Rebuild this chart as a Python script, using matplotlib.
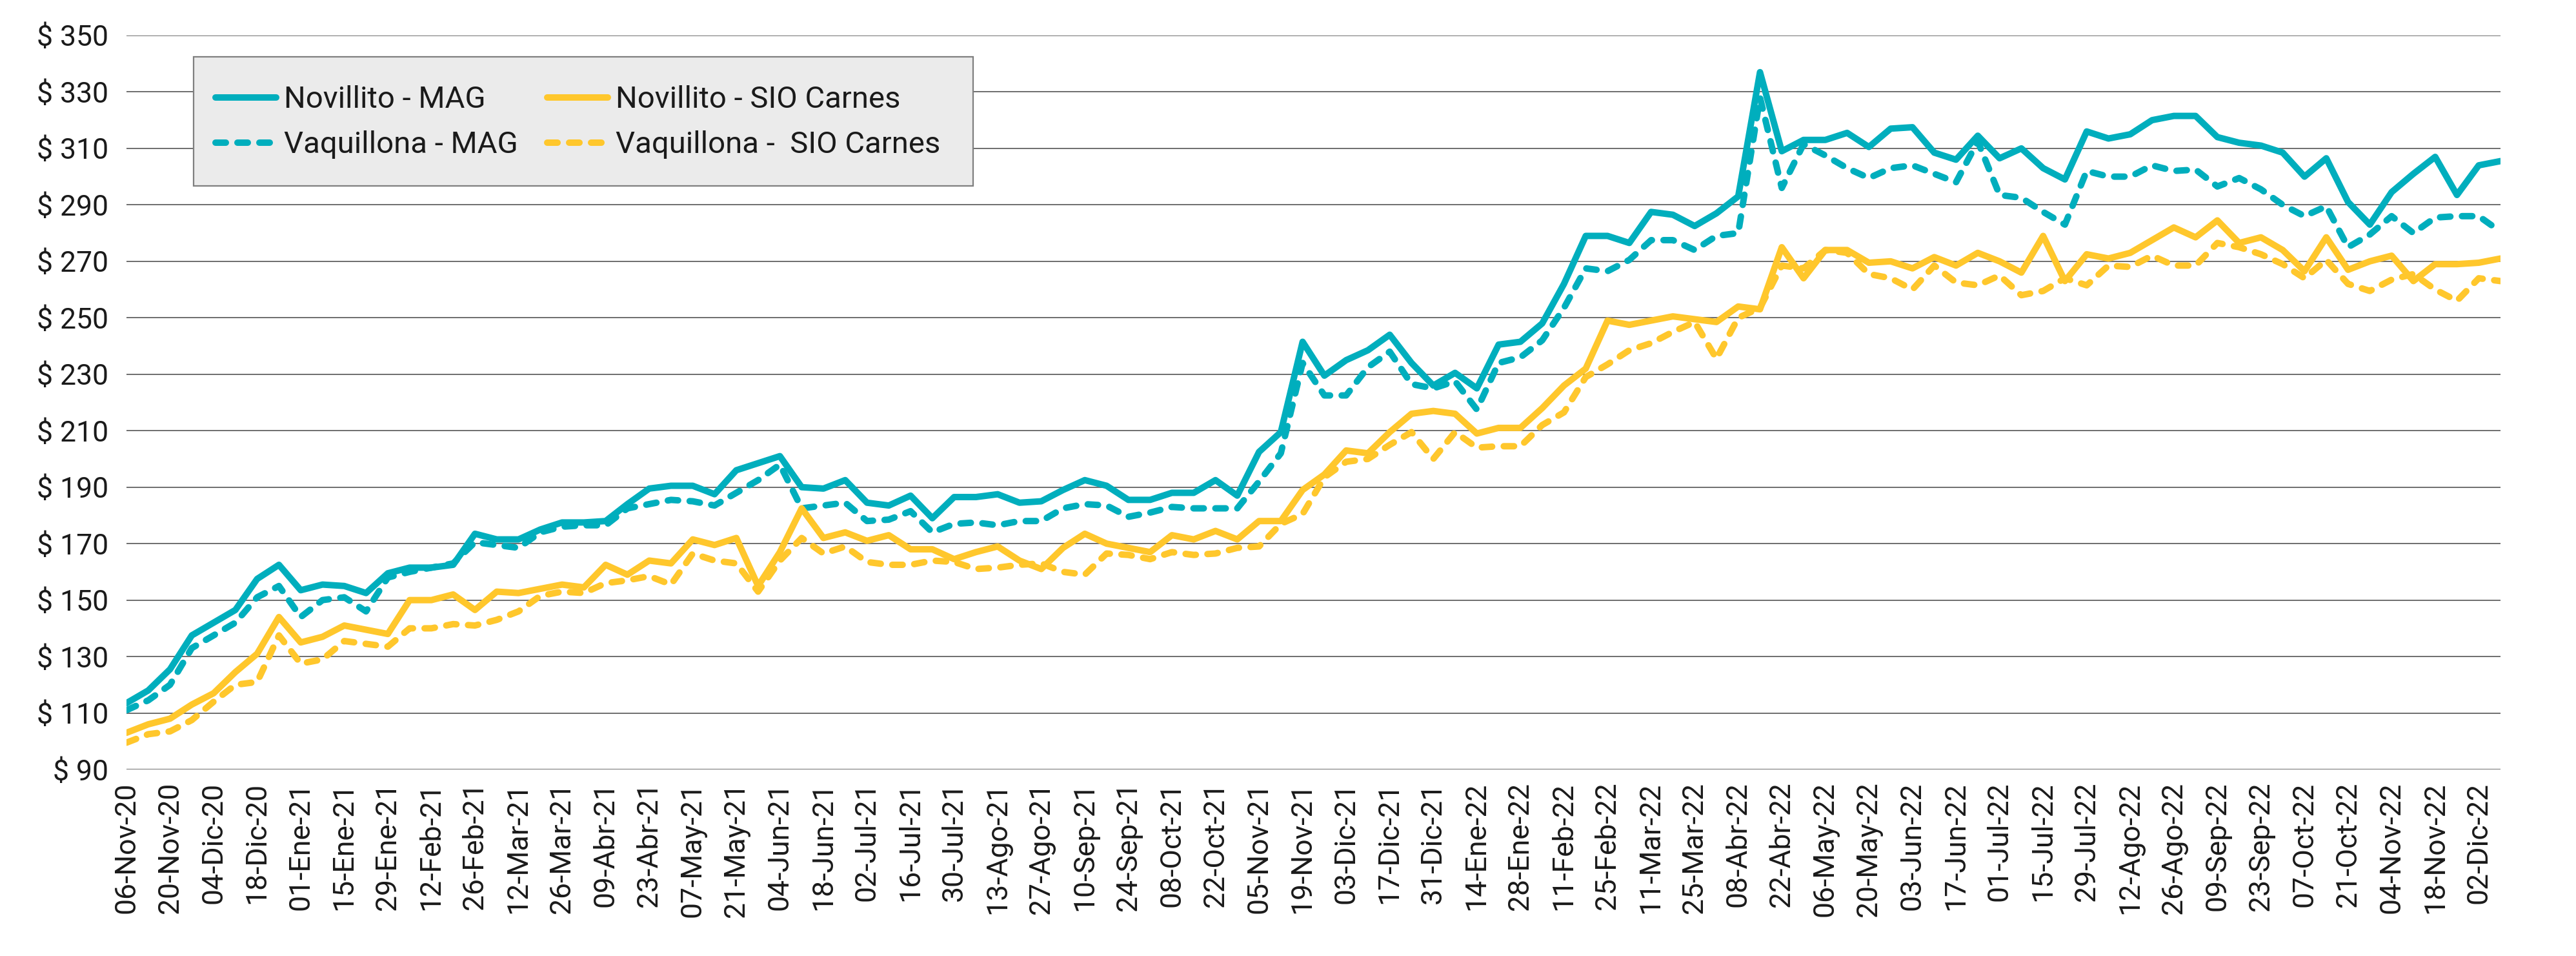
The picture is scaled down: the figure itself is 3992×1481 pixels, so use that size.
"""Precio semanal novillito / vaquillona — MAG vs SIO Carnes"""

import matplotlib
matplotlib.use("Agg")
import matplotlib.pyplot as plt
import matplotlib.transforms as mtransforms
from matplotlib.patches import Rectangle

plt.rcParams["font.family"] = ["Roboto", "DejaVu Sans"]

TEAL = "#00AEBD"
YELLOW = "#FFC72C"
GRID = "#555555"
FG = "#1A1A1A"

# semanas 06-Nov-20 ... 09-Dic-22 (110 puntos), etiqueta cada 2 semanas
tick_labels = [
    "06-Nov-20", "20-Nov-20", "04-Dic-20", "18-Dic-20", "01-Ene-21", "15-Ene-21",
    "29-Ene-21", "12-Feb-21", "26-Feb-21", "12-Mar-21", "26-Mar-21", "09-Abr-21",
    "23-Abr-21", "07-May-21", "21-May-21", "04-Jun-21", "18-Jun-21", "02-Jul-21",
    "16-Jul-21", "30-Jul-21", "13-Ago-21", "27-Ago-21", "10-Sep-21", "24-Sep-21",
    "08-Oct-21", "22-Oct-21", "05-Nov-21", "19-Nov-21", "03-Dic-21", "17-Dic-21",
    "31-Dic-21", "14-Ene-22", "28-Ene-22", "11-Feb-22", "25-Feb-22", "11-Mar-22",
    "25-Mar-22", "08-Abr-22", "22-Abr-22", "06-May-22", "20-May-22", "03-Jun-22",
    "17-Jun-22", "01-Jul-22", "15-Jul-22", "29-Jul-22", "12-Ago-22", "26-Ago-22",
    "09-Sep-22", "23-Sep-22", "07-Oct-22", "21-Oct-22", "04-Nov-22", "18-Nov-22",
    "02-Dic-22",
]

novillito_mag = [
    113.5, 118, 125.5, 137.5, 142, 146.5, 157.5, 162.5, 153.5, 155.5,
    155, 152.5, 159.5, 161.5, 161.5, 162.5, 173.5, 171.5, 171.5, 175,
    177.5, 177.5, 178, 184, 189.5, 190.5, 190.5, 187.5, 196, 198.5,
    201, 190, 189.5, 192.5, 184.5, 183.5, 187, 179, 186.5, 186.5,
    187.5, 184.5, 185, 189, 192.5, 190.5, 185.5, 185.5, 188, 188,
    192.5, 187, 202.5, 209.5, 241.5, 229.5, 235, 238.5, 244, 234,
    226, 230.5, 225, 240.5, 241.5, 248, 262, 279, 279, 276.5,
    287.5, 286.5, 282.5, 287, 293, 337, 309, 313, 313, 315.5,
    310.5, 317, 317.5, 308.5, 306, 314.5, 306.5, 310, 303, 299,
    316, 313.5, 315, 320, 321.5, 321.5, 314, 312, 311, 308.5,
    300, 306.5, 291, 283, 294.5, 301, 307, 293.5, 304, 305.5,
]

vaquillona_mag = [
    111, 114.5, 120, 133, 137.5, 142, 151, 155, 144, 150,
    151, 146, 158, 160, 161.5, 163, 170.5, 169.5, 168.5, 174,
    176, 176.5, 176.5, 182.5, 184, 185.5, 185, 183.5, 188, 192.5,
    198, 182.5, 183.5, 184.5, 178, 178.5, 181.5, 174, 177, 177.5,
    176.5, 178, 178, 182.5, 184, 183.5, 179.5, 181, 183, 182.5,
    182.5, 182.5, 192, 202, 234, 222.5, 222.5, 232.5, 238, 226.5,
    225, 227.5, 217.5, 234, 236, 242, 253.5, 267.5, 266.5, 270.5,
    277.5, 277.5, 274, 279, 280, 328, 296, 311.5, 307.5, 303,
    299.5, 303, 304, 301, 298, 312.5, 293.5, 292.5, 287.5, 283,
    302, 300, 300, 304, 302, 302.5, 296.5, 299.5, 295.5, 290,
    286, 289.5, 275, 279.5, 286, 280, 285.5, 286, 286, 280.5,
]

novillito_sio = [
    103, 106, 108, 113, 117, 124.5, 131, 144, 135, 137,
    141, 139.5, 138, 150, 150, 152, 146.5, 153, 152.5, 154,
    155.5, 154.5, 162.5, 159, 164, 163, 171.5, 169.5, 172, 155,
    167, 182.5, 172, 174, 171, 173, 168, 168, 164.5, 167,
    169, 164, 161, 168.5, 173.5, 170, 168.5, 167, 173, 171.5,
    174.5, 171.5, 178, 178, 189, 194.5, 203, 202, 209.5, 216,
    217, 216, 209, 211, 211, 218, 226, 232, 249, 247.5,
    249, 250.5, 249.5, 248.5, 254, 253, 275, 264, 274, 274,
    269.5, 270, 267.5, 271.5, 268.5, 273, 270, 266, 279, 263,
    272.5, 271, 273, 277.5, 282, 278.5, 284.5, 276.5, 278.5, 274,
    266.5, 278.5, 267, 270, 272, 263, 269, 269, 269.5, 271,
]

vaquillona_sio = [
    99.5, 102.5, 103.5, 107.5, 114, 120, 121, 137.5, 127.5, 129,
    135.5, 134.5, 133.5, 140, 140, 141.5, 141, 143, 146, 151.5,
    153, 152.5, 156, 157, 158.5, 155.5, 166.5, 164, 163, 153,
    164, 172, 166.5, 169, 163.5, 162.5, 162.5, 164, 163.5, 161,
    161.5, 162.5, 163, 160, 159, 166.5, 166, 164.5, 167, 166,
    166.5, 168.5, 169, 177, 180.5, 193.5, 199, 200, 205, 209.5,
    200, 209.5, 204, 204.5, 204.5, 212, 216.5, 229, 233.5, 238.5,
    241, 245, 248.5, 235.5, 250, 253.5, 268.5, 267.5, 274, 273,
    265.5, 264, 260, 268.5, 262.5, 261.5, 265, 258, 259.5, 264,
    261.5, 268.5, 268, 272, 268.5, 268.5, 276.5, 275, 272.5, 269,
    264, 270.5, 262, 259.5, 263.5, 265.5, 260, 256, 264, 263,
]

y_ticks = [90, 110, 130, 150, 170, 190, 210, 230, 250, 270, 290, 310, 330, 350]


fig = plt.figure(figsize=(19.96, 7.405), dpi=200)
ax = fig.add_axes([0.0491, 0.1951, 0.9216, 0.7678])

x = list(range(len(novillito_mag)))
lw = 3.6
dash = (1.6, 1.8)

l1, = ax.plot(x, novillito_mag, color=TEAL, lw=lw, solid_joinstyle="round",
              solid_capstyle="round", label="Novillito - MAG", zorder=3)
l2, = ax.plot(x, vaquillona_mag, color=TEAL, lw=lw, dashes=dash,
              dash_capstyle="round", dash_joinstyle="round",
              label="Vaquillona - MAG", zorder=4)
l3, = ax.plot(x, novillito_sio, color=YELLOW, lw=lw, solid_joinstyle="round",
              solid_capstyle="round", label="Novillito - SIO Carnes", zorder=5)
l4, = ax.plot(x, vaquillona_sio, color=YELLOW, lw=lw, dashes=dash,
              dash_capstyle="round", dash_joinstyle="round",
              label="Vaquillona -  SIO Carnes", zorder=6)

ax.set_xlim(0, len(x) - 1)
ax.set_ylim(90, 350)
ax.set_yticks(y_ticks)
ax.set_yticklabels([f"$ {v}" for v in y_ticks])
ax.set_xticks(range(0, 2 * len(tick_labels), 2))
ax.set_xticklabels(tick_labels, rotation=90)

# etiquetas del eje x algo desplazadas a la derecha, como en Excel
shift = mtransforms.ScaledTranslation(0.08, 0, fig.dpi_scale_trans)
for lab in ax.get_xticklabels():
    lab.set_transform(lab.get_transform() + shift)

for s in ax.spines.values():
    s.set_visible(False)
ax.grid(axis="y", color=GRID, linewidth=0.6)
ax.set_axisbelow(True)
ax.tick_params(axis="y", length=0, pad=10, labelsize=16, colors=FG)
ax.tick_params(axis="x", length=0, pad=7, labelsize=16, colors=FG)

# caja de la leyenda (tamaño fijo) y leyenda sin marco encima
box = Rectangle((0.0283, 0.795), 0.3283, 0.176, transform=ax.transAxes,
                facecolor="#EBEBEB", edgecolor="#7F7F7F", linewidth=0.8,
                zorder=8)
ax.add_patch(box)
leg = ax.legend(handles=[l1, l2, l3, l4], ncol=2, loc="center left",
                bbox_to_anchor=(0.0375, 0.882), borderaxespad=0, borderpad=0,
                fontsize=17, frameon=False,
                handlelength=2.0, handletextpad=0.25, columnspacing=0.95,
                labelspacing=0.55)
leg.set_zorder(9)
for t in leg.get_texts():
    t.set_color(FG)

fig.savefig("out.png", dpi=200, facecolor="white")
plt.close(fig)
